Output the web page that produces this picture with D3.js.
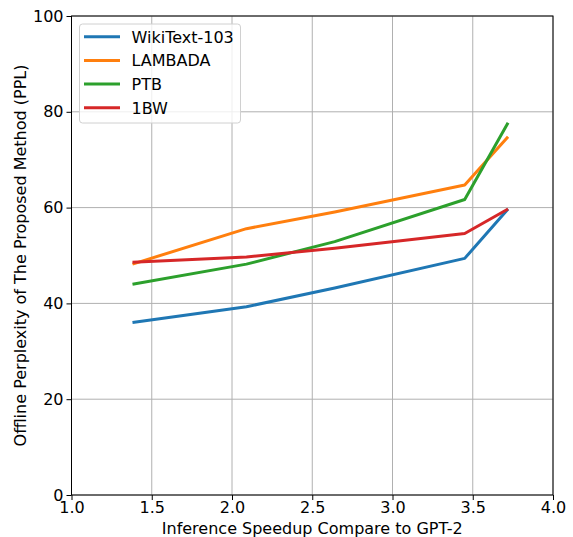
<!DOCTYPE html>
<html><head><meta charset="utf-8">
<script src="https://cdn.jsdelivr.net/npm/d3@7"></script>
<style>body{margin:0;background:#fff}svg{display:block}text{font-family:"DejaVu Sans",sans-serif}</style>
</head><body>
<script>
const speedup = [1.38, 2.09, 2.64, 3.45, 3.72];
const seriesNames = ["WikiText-103", "LAMBADA", "PTB", "1BW"];
const wikitext = [36.0, 39.3, 43.2, 49.4, 59.7];
const lambada = [48.2, 55.6, 59.1, 64.7, 74.8];
const ptb = [44.0, 48.2, 52.9, 61.7, 77.7];
const bw1 = [48.6, 49.7, 51.5, 54.6, 59.7];
const colors = ["#1f77b4", "#ff7f0e", "#2ca02c", "#d62728"];
const xTicks = [1.0, 1.5, 2.0, 2.5, 3.0, 3.5, 4.0];
const yTicks = [0, 20, 40, 60, 80, 100];
const allSeries = [wikitext, lambada, ptb, bw1];

const W = 573, H = 537;
const m = {l: 71.5, r: 20, t: 16, b: 42};
const FS = 16;
const svg = d3.select("body").append("svg").attr("width", W).attr("height", H);
const x = d3.scaleLinear().domain([1, 4]).range([m.l, W - m.r]);
const y = d3.scaleLinear().domain([0, 100]).range([H - m.b, m.t]);

// grid
svg.append("g").selectAll("line").data(xTicks).join("line")
  .attr("x1", d => x(d)).attr("x2", d => x(d)).attr("y1", y(0)).attr("y2", y(100))
  .attr("stroke", "#b0b0b0").attr("stroke-width", 1);
svg.append("g").selectAll("line").data(yTicks).join("line")
  .attr("x1", x(1)).attr("x2", x(4)).attr("y1", d => y(d)).attr("y2", d => y(d))
  .attr("stroke", "#b0b0b0").attr("stroke-width", 1);

// lines
const line = d3.line().x((d, i) => x(speedup[i])).y(d => y(d));
allSeries.forEach((s, k) => {
  svg.append("path").datum(s).attr("d", line).attr("fill", "none")
    .attr("stroke", colors[k]).attr("stroke-width", 3).attr("stroke-linejoin", "round");
});

// axes
const xa = svg.append("g").attr("transform", `translate(0,${y(0)})`)
  .call(d3.axisBottom(x).tickValues(xTicks).tickFormat(d3.format(".1f")).tickSizeOuter(0).tickSize(5).tickPadding(2));
const ya = svg.append("g").attr("transform", `translate(${x(1)},0)`)
  .call(d3.axisLeft(y).tickValues(yTicks).tickSizeOuter(0).tickSize(5).tickPadding(3));
[xa, ya].forEach(a => {
  a.selectAll("text").attr("font-size", FS).attr("fill", "#000").style("font-family", "DejaVu Sans");
  a.selectAll("line").attr("stroke", "#000").attr("stroke-width", 1);
  a.select(".domain").remove();
});
// frame
svg.append("rect").attr("x", x(1)).attr("y", y(100)).attr("width", x(4) - x(1)).attr("height", y(0) - y(100))
  .attr("fill", "none").attr("stroke", "#000").attr("stroke-width", 1);

// labels
svg.append("text").attr("x", (x(1) + x(4)) / 2).attr("y", 534).attr("text-anchor", "middle")
  .attr("font-size", FS).text("Inference Speedup Compare to GPT-2");
svg.append("text").attr("transform", `translate(26,${(y(0) + y(100)) / 2}) rotate(-90)`).attr("text-anchor", "middle")
  .attr("font-size", FS).text("Offline Perplexity of The Proposed Method (PPL)");

// legend
const lg = svg.append("g");
lg.append("rect").attr("x", 79.5).attr("y", 24).attr("width", 161).attr("height", 99).attr("rx", 3)
  .attr("fill", "#fff").attr("fill-opacity", 0.8).attr("stroke", "#d0d0d0").attr("stroke-width", 1);
seriesNames.forEach((n, k) => {
  const yy = 36.7 + k * 23.7;
  lg.append("line").attr("x1", 84).attr("x2", 120).attr("y1", yy).attr("y2", yy)
    .attr("stroke", colors[k]).attr("stroke-width", 3);
  lg.append("text").attr("x", 131.5).attr("y", yy + 5.8).attr("font-size", FS).text(n);
});
</script>
</body></html>
